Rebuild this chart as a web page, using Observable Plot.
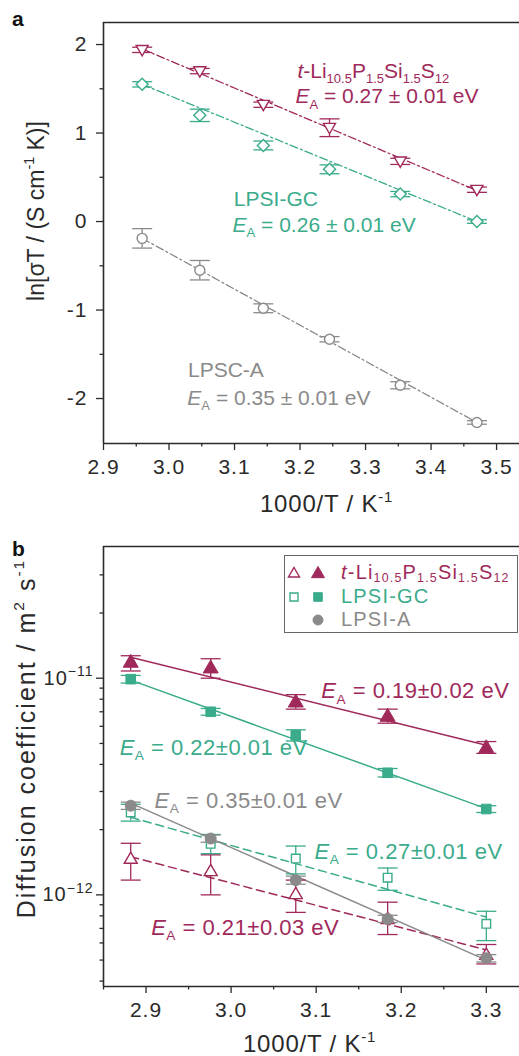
<!DOCTYPE html>
<html><head><meta charset="utf-8">
<script src="https://cdn.jsdelivr.net/npm/d3@7"></script>
<script src="https://cdn.jsdelivr.net/npm/@observablehq/plot@0.6"></script>
<style>
body{margin:0;background:#fff;font-family:"Liberation Sans",Arial,Helvetica,sans-serif;}
#wrap{position:relative;width:519px;height:1056px;overflow:hidden;background:#fff;}
.panel{position:absolute;left:0;width:519px;height:528px;overflow:hidden;}
.plab{position:absolute;font-weight:bold;font-size:21px;color:#111;line-height:1;}
#legend{position:absolute;left:284px;top:555px;width:234px;height:78px;border:1px solid #666;box-sizing:border-box;background:#fff;}
#legend .row{position:absolute;left:0;height:20px;width:232px;}
#legend svg{position:absolute;top:0;left:0;}
#legend .lt{position:absolute;left:56px;top:0;font-size:20px;line-height:20px;letter-spacing:1.2px;white-space:nowrap;}
</style></head><body>
<div id="wrap">
  <div class="panel" id="pa" style="top:0"></div>
  <div class="panel" id="pb" style="top:528px"></div>
  <div class="plab" style="left:12px;top:8px">a</div>
  <div class="plab" style="left:12px;top:538px">b</div>
  <div id="legend"></div>
</div>
<script>
// ---------- Panel a data: ln(sigma T) vs 1000/T ----------
const xA = [2.959, 3.047, 3.144, 3.245, 3.353, 3.470];
const lpssA = [1.94, 1.70, 1.32, 1.06, 0.68, 0.36];
const lpssAErr = [0.03, 0.03, 0.03, 0.10, 0.035, 0.03];
const gcA = [1.55, 1.20, 0.86, 0.59, 0.31, 0.00];
const gcAErr = [0.03, 0.07, 0.05, 0.05, 0.03, 0.02];
const lpscA = [-0.19, -0.55, -0.98, -1.33, -1.85, -2.27];
const lpscAErr = [0.11, 0.11, 0.05, 0.03, 0.04, 0.02];
const fitXA = [2.959, 3.470];
const fitLpssA = [1.95, 0.35];
const fitGcA = [1.55, 0.00];
const fitLpscA = [-0.19, -2.27];
const xTicksA = [2.9, 3.0, 3.1, 3.2, 3.3, 3.4, 3.5];
const xMinorA = [2.95, 3.05, 3.15, 3.25, 3.35, 3.45];
const yTicksA = [-2, -1, 0, 1, 2];
const yMinorA = [-1.5, -0.5, 0.5, 1.5];
const xDomA = [2.9, 3.535];
const yDomA = [-2.508, 2.249];
const annA = [
  {x: 3.196, y: 1.70, text: "*t*-Li_{10.5}P_{1.5}Si_{1.5}S_{12}", c: "red"},
  {x: 3.193, y: 1.41, text: "*E*_{A} = 0.27 ± 0.01 eV", c: "red"},
  {x: 3.099, y: 0.252, text: "LPSI-GC", c: "teal"},
  {x: 3.097, y: -0.045, text: "*E*_{A} = 0.26 ± 0.01 eV", c: "teal"},
  {x: 3.029, y: -1.678, text: "LPSC-A", c: "gray"},
  {x: 3.028, y: -2.0, text: "*E*_{A} = 0.35 ± 0.01 eV", c: "gray"}
];
const xLabel = "1000/T / K^{-1}";
const yLabelA = "ln[σT / (S cm^{-1} K)]";

// ---------- Panel b data: diffusion coefficient vs 1000/T ----------
const xB = [2.882, 2.976, 3.076, 3.184, 3.300];
const lpssBulk = [1.19e-11, 1.12e-11, 7.8e-12, 6.7e-12, 4.8e-12];
const lpssBulkLo = [1.08e-11, 1.0e-11, 7.2e-12, 6.2e-12, 4.5e-12];
const lpssBulkHi = [1.27e-11, 1.23e-11, 8.4e-12, 7.2e-12, 5.1e-12];
const gcBulk = [9.9e-12, 7.0e-12, 5.45e-12, 3.66e-12, 2.49e-12];
const gcBulkLo = [9.5e-12, 6.75e-12, 5.13e-12, 3.5e-12, 2.4e-12];
const gcBulkHi = [1.03e-11, 7.25e-12, 5.78e-12, 3.83e-12, 2.58e-12];
const lpsiA = [2.58e-12, 1.82e-12, 1.17e-12, 7.75e-13, 5.1e-13];
const lpsiALo = [2.48e-12, 1.75e-12, 1.12e-12, 7.45e-13, 4.9e-13];
const lpsiAHi = [2.68e-12, 1.89e-12, 1.22e-12, 8.05e-13, 5.3e-13];
const lpssGB = [1.47e-12, 1.29e-12, 1.01e-12, 7.75e-13, 5.3e-13];
const lpssGBLo = [1.17e-12, 1.0e-12, 8.3e-13, 6.56e-13, 4.8e-13];
const lpssGBHi = [1.73e-12, 1.53e-12, 1.17e-12, 9.25e-13, 5.9e-13];
const gcGB = [2.40e-12, 1.72e-12, 1.47e-12, 1.20e-12, 7.35e-13];
const gcGBLo = [2.19e-12, 1.55e-12, 1.25e-12, 1.05e-12, 6.15e-13];
const gcGBHi = [2.62e-12, 1.9e-12, 1.68e-12, 1.33e-12, 8.4e-13];
const fitXB = [2.882, 3.300];
const fitLpssBulk = [1.25e-11, 4.9e-12];
const fitGcBulk = [9.8e-12, 2.5e-12];
const fitLpsiA = [2.65e-12, 5.0e-13];
const fitGcGB = [2.28e-12, 7.9e-13];
const fitLpssGB = [1.50e-12, 5.57e-13];
const xTicksB = [2.9, 3.0, 3.1, 3.2, 3.3];
const xMinorB = [2.85, 2.95, 3.05, 3.15, 3.25];
const yTicksB = [1e-12, 1e-11];
const yMinorB = [4e-13, 5e-13, 6e-13, 7e-13, 8e-13, 9e-13, 2e-12, 3e-12, 4e-12, 5e-12, 6e-12, 7e-12, 8e-12, 9e-12, 2e-11, 3e-11];
const xDomB = [2.85, 3.339];
const yDomB = [3.776e-13, 4.055e-11];
const annB = [
  {x: 3.106, y: 8.7e-12, text: "*E*_{A} = 0.19±0.02 eV", c: "red"},
  {x: 2.869, y: 4.78e-12, text: "*E*_{A} = 0.22±0.01 eV", c: "teal"},
  {x: 2.910, y: 2.72e-12, text: "*E*_{A} = 0.35±0.01 eV", c: "gray"},
  {x: 3.098, y: 1.585e-12, text: "*E*_{A} = 0.27±0.01 eV", c: "teal"},
  {x: 2.906, y: 7.02e-13, text: "*E*_{A} = 0.21±0.03 eV", c: "red"}
];
const yLabelB = "Diffusion coefficient / m^{2} s^{-1}";
const legendLabels = ["*t*-Li_{10.5}P_{1.5}Si_{1.5}S_{12}", "LPSI-GC", "LPSI-A"];

// ---------- styles ----------
const COL = {red: "#a0295b", teal: "#3aab8b", gray: "#8a8a8a"};
const FONT = '"Liberation Sans", Arial, Helvetica, sans-serif';
const AX = "#2a2a2a";
const rad = s => Math.sqrt(s / Math.PI);
const downTri = {draw(c, s){const r = rad(s); c.moveTo(0, r); c.lineTo(-r, -r*0.72); c.lineTo(r, -r*0.72); c.closePath();}};
const upTri = {draw(c, s){const r = rad(s); c.moveTo(0, -r); c.lineTo(r, r*0.72); c.lineTo(-r, r*0.72); c.closePath();}};
const sq = {draw(c, s){const r = rad(s); c.rect(-r, -r, 2*r, 2*r);}};
const dia = {draw(c, s){const r = rad(s); c.moveTo(0, -r); c.lineTo(r, 0); c.lineTo(0, r); c.lineTo(-r, 0); c.closePath();}};
const circ = {draw(c, s){const r = rad(s); c.moveTo(r, 0); c.arc(0, 0, r, 0, 2*Math.PI);}};
const cap = {draw(c, s){const r = rad(s); c.moveTo(-r, 0); c.lineTo(r, 0);}};

const rowsErr = (xs, ys, errs) => xs.map((x, i) => ({x, y: ys[i], lo: ys[i] - errs[i], hi: ys[i] + errs[i]}));
const rowsLH = (xs, ys, lo, hi) => xs.map((x, i) => ({x, y: ys[i], lo: lo[i], hi: hi[i]}));
const fitRows = (xs, ys) => xs.map((x, i) => ({x, y: ys[i]}));

function errMarks(rows, color, capR) {
  return [
    Plot.ruleX(rows, {x: "x", y1: "lo", y2: "hi", stroke: color, strokeWidth: 1.3}),
    Plot.dot(rows, {x: "x", y: "lo", symbol: cap, r: capR, stroke: color, fill: "none", strokeWidth: 1.3}),
    Plot.dot(rows, {x: "x", y: "hi", symbol: cap, r: capR, stroke: color, fill: "none", strokeWidth: 1.3})
  ];
}

function parseRich(s) {
  const segs = []; let i = 0, italic = false, buf = "";
  const push = (t, shift) => { if (t) segs.push({t, italic, shift}); };
  while (i < s.length) {
    const c = s[i];
    if (c === "*") { push(buf, 0); buf = ""; italic = !italic; i++; }
    else if ((c === "_" || c === "^") && s[i+1] === "{") {
      push(buf, 0); buf = ""; const j = s.indexOf("}", i);
      push(s.slice(i+2, j), c === "_" ? 1 : -1); i = j + 1;
    } else { buf += c; i++; }
  }
  push(buf, 0);
  return segs;
}
function applyRich(svg) {
  d3.select(svg).selectAll("text").each(function() {
    const s = this.textContent;
    if (!/\*|[_^]\{/.test(s)) return;
    const scale = this.closest('g[aria-label="y-axis tick label"]') ? 0.7 : 0.62;
    const segs = parseRich(s);
    this.textContent = "";
    let cur = 0;
    for (const g of segs) {
      const target = g.shift === 1 ? 0.24 : g.shift === -1 ? -0.42 : 0;
      const ts = d3.select(this).append("tspan").text(g.t);
      const delta = target - cur;
      if (g.shift) { ts.attr("font-size", (scale*100) + "%"); if (delta) ts.attr("dy", (delta/scale).toFixed(3) + "em"); }
      else if (delta) ts.attr("dy", delta.toFixed(3) + "em");
      if (g.italic) ts.attr("font-style", "italic");
      cur = target;
    }
  });
}
function richHTML(s) {
  return parseRich(s).map(g => {
    let t = g.t;
    if (g.italic) t = `<i>${t}</i>`;
    if (g.shift === 1) t = `<span style="font-size:62%;position:relative;top:0.25em;line-height:0">${t}</span>`;
    if (g.shift === -1) t = `<span style="font-size:62%;position:relative;top:-0.6em;line-height:0">${t}</span>`;
    return t;
  }).join("");
}

// ---------- Panel a ----------
const dashDot = "8,3,2,3";
const plotA = Plot.plot({
  width: 519, height: 528, marginLeft: 103, marginRight: 0, marginTop: 22, marginBottom: 85,
  style: {fontFamily: FONT, fontSize: "21px", color: AX, background: "white", overflow: "visible"},
  x: {domain: xDomA}, y: {domain: yDomA},
  marks: [
    Plot.axisX({ticks: xTicksA, tickSize: 7, tickPadding: 9, tickFormat: d3.format(".1f"), fontSize: 21, label: null, strokeWidth: 1.3}),
    Plot.axisX({ticks: xMinorA, tickSize: 3.5, tickFormat: () => "", label: null, strokeWidth: 1.3}),
    Plot.axisY({ticks: yTicksA, tickSize: 7, tickPadding: 9, tickFormat: d => String(d), fontSize: 21, label: null, strokeWidth: 1.3}),
    Plot.axisY({ticks: yMinorA, tickSize: 3.5, tickFormat: () => "", label: null, strokeWidth: 1.3}),
    Plot.ruleX([xDomA[0]], {stroke: AX, strokeWidth: 1.6}),
    Plot.ruleY([yDomA[0]], {stroke: AX, strokeWidth: 1.6}),
    Plot.ruleY([yDomA[1]], {stroke: AX, strokeWidth: 1.6}),
    Plot.line(fitRows(fitXA, fitLpssA), {x: "x", y: "y", stroke: COL.red, strokeWidth: 1.3, strokeDasharray: dashDot}),
    Plot.line(fitRows(fitXA, fitGcA), {x: "x", y: "y", stroke: COL.teal, strokeWidth: 1.3, strokeDasharray: dashDot}),
    Plot.line(fitRows(fitXA, fitLpscA), {x: "x", y: "y", stroke: COL.gray, strokeWidth: 1.3, strokeDasharray: dashDot}),
    ...errMarks(rowsErr(xA, lpssA, lpssAErr), COL.red, 10),
    ...errMarks(rowsErr(xA, gcA, gcAErr), COL.teal, 10),
    ...errMarks(rowsErr(xA, lpscA, lpscAErr), COL.gray, 10),
    Plot.dot(rowsErr(xA, lpssA, lpssAErr), {x: "x", y: "y", symbol: downTri, r: 6, stroke: COL.red, fill: "white", strokeWidth: 1.4}),
    Plot.dot(rowsErr(xA, gcA, gcAErr), {x: "x", y: "y", symbol: dia, r: 6, stroke: COL.teal, fill: "white", strokeWidth: 1.4}),
    Plot.dot(rowsErr(xA, lpscA, lpscAErr), {x: "x", y: "y", symbol: circ, r: 5, stroke: COL.gray, fill: "white", strokeWidth: 1.4}),
    Plot.text(annA, {x: "x", y: "y", text: "text", fill: d => COL[d.c], fontSize: 21, textAnchor: "start", lineAnchor: "middle"}),
    Plot.text([xLabel], {text: d => d, frameAnchor: "bottom", dx: 15, dy: 61, fontSize: 24, fill: AX, textAnchor: "middle", lineAnchor: "middle"}),
    Plot.text([yLabelA], {text: d => d, frameAnchor: "left", dx: -67, dy: -22, rotate: -90, fontSize: 23, fill: AX, textAnchor: "middle", lineAnchor: "middle"})
  ]
});
applyRich(plotA);
document.getElementById("pa").appendChild(plotA);

// ---------- Panel b ----------
const dashed = "8,5";
const supFmt = d => `10^{−${Math.round(-Math.log10(d))}}`;
const plotB = Plot.plot({
  width: 519, height: 528, marginLeft: 103, marginRight: 0, marginTop: 18, marginBottom: 70,
  style: {fontFamily: FONT, fontSize: "21px", color: AX, background: "white", overflow: "visible"},
  x: {domain: xDomB}, y: {type: "log", domain: yDomB},
  marks: [
    Plot.axisX({ticks: xTicksB, tickSize: 7, tickPadding: 9, tickFormat: d3.format(".1f"), fontSize: 21, label: null, strokeWidth: 1.3}),
    Plot.axisX({ticks: xMinorB, tickSize: 3.5, tickFormat: () => "", label: null, strokeWidth: 1.3}),
    Plot.axisY({ticks: yTicksB, tickSize: 7, tickPadding: 3, tickFormat: supFmt, fontSize: 20, label: null, strokeWidth: 1.3}),
    Plot.axisY({ticks: yMinorB, tickSize: 3.5, tickFormat: () => "", label: null, strokeWidth: 1.3}),
    Plot.ruleX([xDomB[0]], {stroke: AX, strokeWidth: 1.6}),
    Plot.ruleY([yDomB[0]], {stroke: AX, strokeWidth: 1.6}),
    Plot.ruleY([yDomB[1]], {stroke: AX, strokeWidth: 1.6}),
    Plot.line(fitRows(fitXB, fitLpssGB), {x: "x", y: "y", stroke: COL.red, strokeWidth: 1.5, strokeDasharray: dashed}),
    Plot.line(fitRows(fitXB, fitGcGB), {x: "x", y: "y", stroke: COL.teal, strokeWidth: 1.5, strokeDasharray: dashed}),
    Plot.line(fitRows(fitXB, fitLpssBulk), {x: "x", y: "y", stroke: COL.red, strokeWidth: 1.5}),
    Plot.line(fitRows(fitXB, fitGcBulk), {x: "x", y: "y", stroke: COL.teal, strokeWidth: 1.5}),
    Plot.line(fitRows(fitXB, fitLpsiA), {x: "x", y: "y", stroke: COL.gray, strokeWidth: 1.5}),
    ...errMarks(rowsLH(xB, lpssGB, lpssGBLo, lpssGBHi), COL.red, 10),
    ...errMarks(rowsLH(xB, gcGB, gcGBLo, gcGBHi), COL.teal, 10),
    Plot.dot(rowsLH(xB, lpssGB, lpssGBLo, lpssGBHi), {x: "x", y: "y", symbol: upTri, r: 6.5, stroke: COL.red, fill: "white", strokeWidth: 1.4}),
    Plot.dot(rowsLH(xB, gcGB, gcGBLo, gcGBHi), {x: "x", y: "y", symbol: sq, r: 4.3, stroke: COL.teal, fill: "white", strokeWidth: 1.4}),
    ...errMarks(rowsLH(xB, lpssBulk, lpssBulkLo, lpssBulkHi), COL.red, 10),
    ...errMarks(rowsLH(xB, gcBulk, gcBulkLo, gcBulkHi), COL.teal, 10),
    Plot.dot(rowsLH(xB, lpssBulk, lpssBulkLo, lpssBulkHi), {x: "x", y: "y", symbol: upTri, r: 7.5, stroke: COL.red, fill: COL.red, strokeWidth: 1}),
    Plot.dot(rowsLH(xB, gcBulk, gcBulkLo, gcBulkHi), {x: "x", y: "y", symbol: sq, r: 4.8, stroke: COL.teal, fill: COL.teal, strokeWidth: 1}),
    ...errMarks(rowsLH(xB, lpsiA, lpsiALo, lpsiAHi), COL.gray, 10),
    Plot.dot(rowsLH(xB, lpsiA, lpsiALo, lpsiAHi), {x: "x", y: "y", symbol: circ, r: 5.5, stroke: COL.gray, fill: COL.gray, strokeWidth: 1}),
    Plot.text(annB, {x: "x", y: "y", text: "text", fill: d => COL[d.c], fontSize: 22, textAnchor: "start", lineAnchor: "middle"}),
    Plot.text([xLabel], {text: d => d, frameAnchor: "bottom", dx: -2, dy: 58, fontSize: 24, fill: AX, textAnchor: "middle", lineAnchor: "middle"}),
    Plot.text([yLabelB], {text: d => d, frameAnchor: "left", dx: -77, dy: -28, rotate: -90, fontSize: 25, fill: AX, textAnchor: "middle", lineAnchor: "middle"})
  ]
});
applyRich(plotB);
document.getElementById("pb").appendChild(plotB);

// text spacing tweaks, selected by content
const texts = svg => d3.select(svg).selectAll("text");
for (const svg of [plotA, plotB]) {
  texts(svg).filter(function() { return this.textContent.startsWith("1000/T"); }).style("letter-spacing", "0.8px");
  d3.select(svg).selectAll('g[aria-label="x-axis tick label"] text, g[aria-label="y-axis tick label"] text').style("letter-spacing", "1px");
}
texts(plotB).filter(function() { return this.textContent.startsWith("Diffusion"); })
  .style("letter-spacing", "2px");
texts(plotB).filter(function() { return this.textContent.startsWith("E") && this.textContent.endsWith("eV"); })
  .style("letter-spacing", "0.5px");

// ---------- Legend (HTML) ----------
const legendRows = [
  {label: legendLabels[0], color: COL.red, open: upTri, filled: upTri, ro: 5.5, rf: 6.5},
  {label: legendLabels[1], color: COL.teal, open: sq, filled: sq, ro: 4, rf: 4.3},
  {label: legendLabels[2], color: COL.gray, open: null, filled: circ, ro: 0, rf: 5}
];
const legend = d3.select("#legend");
const rowTops = [6, 30, 53];
legendRows.forEach((r, i) => {
  const row = legend.append("div").attr("class", "row").style("top", rowTops[i] + "px");
  const svg = row.append("svg").attr("width", 56).attr("height", 20);
  if (r.open) svg.append("path").attr("d", d3.symbol(r.open, Math.PI * r.ro * r.ro)()).attr("transform", "translate(9,11)")
    .attr("fill", "white").attr("stroke", r.color).attr("stroke-width", 1.4);
  svg.append("path").attr("d", d3.symbol(r.filled, Math.PI * r.rf * r.rf)()).attr("transform", "translate(33,11)")
    .attr("fill", r.color).attr("stroke", r.color).attr("stroke-width", 1);
  row.append("div").attr("class", "lt").style("color", r.color).html(richHTML(r.label));
});
</script>
</body></html>
